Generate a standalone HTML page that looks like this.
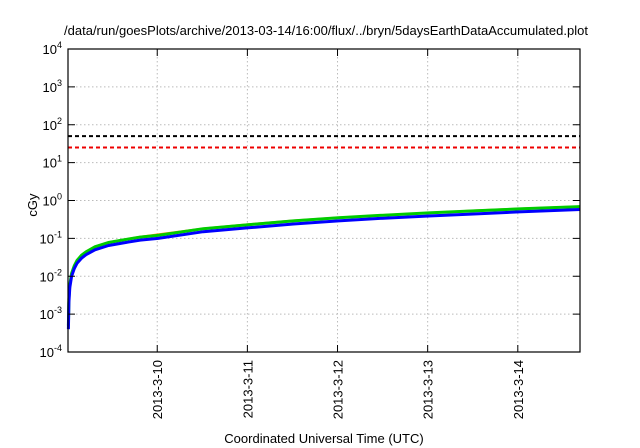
<!DOCTYPE html>
<html><head><meta charset="utf-8"><style>
body{margin:0;background:#fff}
svg{display:block;font-family:"Liberation Sans",sans-serif}
</style></head><body>
<svg id="c" width="640" height="448">
<text x="326" y="35" text-anchor="middle" font-size="13">/data/run/goesPlots/archive/2013-03-14/16:00/flux/../bryn/5daysEarthDataAccumulated.plot</text>
<text x="37" y="205" text-anchor="middle" font-size="13" transform="rotate(-90 37 205)">cGy</text>
<text x="324" y="443" text-anchor="middle" font-size="13">Coordinated Universal Time (UTC)</text>
<g id="grid"></g><g id="marks"></g><g id="axes"></g>
</svg>
<script>
const dayTicks=["2013-3-10","2013-3-11","2013-3-12","2013-3-13","2013-3-14"];
const yExps=[-4,-3,-2,-1,0,1,2,3,4];
const times=[0.004,0.01,0.02,0.04,0.07,0.1,0.15,0.2,0.3,0.45,0.6,0.8,1.0,1.5,2.0,2.5,3.0,3.5,4.0,4.5,5.0,5.68];
const blue=[0.0004,0.002,0.005,0.01,0.016,0.022,0.03,0.037,0.05,0.065,0.075,0.09,0.1,0.15,0.19,0.24,0.29,0.34,0.39,0.44,0.5,0.58];
const green=[0.0005,0.0025,0.006,0.012,0.019,0.026,0.036,0.044,0.06,0.078,0.09,0.108,0.12,0.18,0.23,0.29,0.35,0.41,0.47,0.53,0.6,0.69];
const orange=[0.0005,0.0026,0.0062,0.0125,0.02,0.027,0.037,0.046,0.062,0.08,0.093,0.112,0.13,0.185,0.24,0.3,0.36,0.42,0.48,0.55,0.62,0.71];
const thresholds=[50,25];
const thrColors=["#000","#e00"];
const L=68,R=580,T=49,B=352,t0=-0.99,t1=4.69;
const sx=t=>L+(t-t0)/(t1-t0)*(R-L);
const sy=v=>B-(Math.log10(v)+4)/8*(B-T);
const NS="http://www.w3.org/2000/svg";
function mk(tag,p,at){const e=document.createElementNS(NS,tag);for(const k in at)e.setAttribute(k,at[k]);p.appendChild(e);return e;}
const grid=document.getElementById('grid'),marks=document.getElementById('marks'),axes=document.getElementById('axes');
yExps.forEach(ex=>{const y=sy(Math.pow(10,ex));
 if(ex>-4&&ex<4){const g=mk('line',grid,{x1:L,x2:R,y1:y,y2:y,stroke:'#bbb','stroke-dasharray':'1.5,2.5'});
 
 }
 mk('line',axes,{x1:L,x2:L+7,y1:y,y2:y,stroke:'#000'});mk('line',axes,{x1:R,x2:R-7,y1:y,y2:y,stroke:'#000'});
 const t=mk('text',axes,{x:L-6,y:y+5,'text-anchor':'end','font-size':'13'});
 
 
 t.textContent='10';const s=mk('tspan',t,{dy:-6,'font-size':'9'});s.textContent=String(ex);});
dayTicks.forEach((d,i)=>{const x=sx(i);
 const g=mk('line',grid,{x1:x,x2:x,y1:T,y2:B,stroke:'#bbb','stroke-dasharray':'1.5,2.5'});
 
 
 mk('line',axes,{x1:x,x2:x,y1:B,y2:B-7,stroke:'#000'});mk('line',axes,{x1:x,x2:x,y1:T,y2:T+7,stroke:'#000'});
 const t=mk('text',axes,{x:x+5,y:B+8,'text-anchor':'end','font-size':'13',transform:`rotate(-90 ${x+5} ${B+8})`});
 
 
 t.textContent=d;});
thresholds.forEach((v,i)=>{const l=mk('line',marks,{x1:L,x2:R,y1:sy(v),y2:sy(v),stroke:thrColors[i],'stroke-width':2,'stroke-dasharray':'4,3'});
 
 });
[[orange,'#f80',1.5],[green,'#0c0',3],[blue,'#00f',3]].forEach(([s,c,w])=>{
 const p=mk('path',marks,{d:s.map((v,i)=>(i?'L':'M')+sx(t0+times[i]).toFixed(1)+','+sy(v).toFixed(1)).join(''),fill:'none',stroke:c,'stroke-width':w});
 
 });
const f=mk('rect',axes,{x:L,y:T,width:R-L,height:B-T,fill:'none',stroke:'#000','stroke-width':1.2});


</script>
</body></html>
